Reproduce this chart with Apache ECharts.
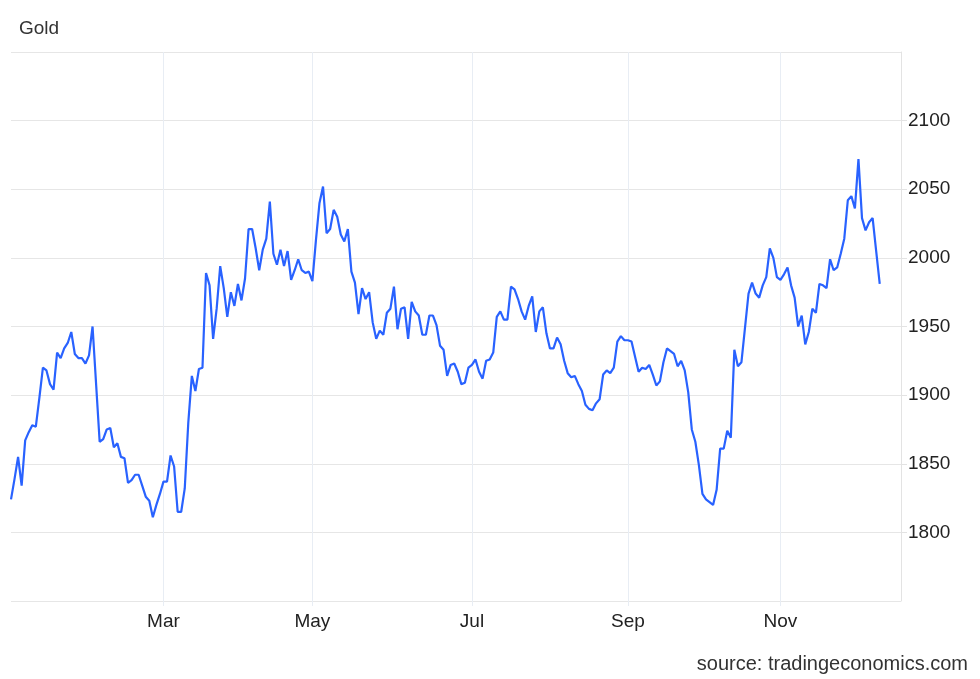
<!DOCTYPE html>
<html>
<head>
<meta charset="utf-8">
<script src="https://cdn.jsdelivr.net/npm/echarts@6/dist/echarts.min.js"></script>
<style>
  html, body { margin: 0; padding: 0; background: #fff; }
  #chart { width: 980px; height: 679px; }
</style>
</head>
<body>
<div id="chart"></div>
<script>
// trading days run from the first to the last date, weekends and skipDates left out
const firstDay = "2022-12-30";
const axisLastDay = "2023-12-19";
const skipDates = ["2023-04-07"];

// month labels on the x axis
const tickDates = ["2023-03-01", "2023-05-01", "2023-07-03", "2023-09-01", "2023-11-01"];
const tickLabels = ["Mar", "May", "Jul", "Sep", "Nov"];

// y axis
const yMin = 1750;
const yMax = 2150;
const yStep = 50;

// gold price, one value per trading day (Dec 30 2022 .. Dec 11 2023)
const goldJanFeb = [
  1824, 1839, 1855, 1834, 1867, 1873, 1878, 1877, 1898, 1920,
  1918, 1908, 1904, 1931, 1927, 1934, 1938, 1946, 1930, 1927,
  1927, 1923, 1929, 1950, 1908, 1866, 1868, 1875, 1876, 1862,
  1865, 1855, 1854, 1836, 1838, 1842, 1842, 1834, 1826, 1823,
  1811, 1820, 1828
];
const goldMarApr = [
  1837, 1837, 1856, 1848, 1815, 1815, 1832, 1880, 1914, 1903,
  1919, 1920, 1989, 1980, 1941, 1963, 1994, 1978, 1957, 1975,
  1965, 1981, 1969, 1985, 2021, 2021, 2007, 1991, 2006, 2014,
  2041, 2003, 1995, 2006, 1994, 2005, 1984, 1991, 1999, 1991,
  1989, 1990
];
const goldMayJun = [
  1983, 2013, 2040, 2052, 2018, 2021, 2035, 2030, 2017, 2012,
  2021, 1990, 1982, 1959, 1978, 1970, 1975, 1953, 1941, 1947,
  1944, 1960, 1963, 1979, 1948, 1963, 1964, 1941, 1968, 1961,
  1958, 1944, 1944, 1958, 1958, 1951, 1936, 1933, 1914, 1922,
  1923, 1917, 1908, 1909, 1920
];
const goldJulAug = [
  1922, 1926, 1917, 1912, 1925, 1926, 1931, 1957, 1961, 1955,
  1955, 1979, 1977, 1970, 1961, 1955, 1965, 1972, 1946, 1961,
  1964, 1945, 1934, 1934, 1942, 1937, 1925, 1916, 1913, 1914,
  1908, 1903, 1893, 1890, 1889, 1894, 1897, 1915, 1918, 1916,
  1920, 1939, 1943, 1940
];
const goldSepOct = [
  1940, 1939, 1928, 1917, 1920, 1919, 1922, 1915, 1907, 1910,
  1924, 1934, 1932, 1930, 1921, 1925, 1918, 1902, 1875, 1866,
  1849, 1828, 1824, 1822, 1820, 1831, 1861, 1861, 1874, 1869,
  1933, 1921, 1924, 1949, 1974, 1982, 1974, 1971, 1980, 1986,
  2007, 2000, 1986
];
const goldNovDec = [
  1984, 1988, 1993, 1980, 1971, 1950, 1958, 1937, 1946, 1963,
  1960, 1981, 1980, 1978, 1999, 1991, 1993, 2003, 2014, 2042,
  2045, 2036, 2072, 2029, 2020, 2026, 2029, 2005, 1981
];

const goldValues = [].concat(goldJanFeb, goldMarApr, goldMayJun, goldJulAug, goldSepOct, goldNovDec);

function tradingDays(from, to, skip) {
  const out = [];
  let d = new Date(from + "T00:00:00Z");
  const end = new Date(to + "T00:00:00Z");
  while (d <= end) {
    const day = d.getUTCDay();
    const s = d.toISOString().slice(0, 10);
    if (day !== 0 && day !== 6 && skip.indexOf(s) < 0) out.push(s);
    d = new Date(d.getTime() + 86400000);
  }
  return out;
}

const categories = tradingDays(firstDay, axisLastDay, skipDates);
const isTick = (index, value) => tickDates.indexOf(value) >= 0;

const chart = echarts.init(document.getElementById("chart"));
const fontFamily = "'Liberation Sans', Arial, sans-serif";

chart.setOption({
  animation: false,
  textStyle: { fontFamily: fontFamily },
  title: {
    text: "Gold",
    left: 14,
    top: 14,
    textStyle: { fontSize: 19, fontWeight: "normal", color: "#333", fontFamily: fontFamily }
  },
  graphic: [
    {
      type: "text",
      right: 12,
      bottom: 5,
      style: { text: "source: tradingeconomics.com", fontSize: 20, fill: "#333", fontFamily: fontFamily }
    }
  ],
  grid: { left: 11, right: 79, top: 52, bottom: 78 },
  xAxis: {
    type: "category",
    boundaryGap: false,
    data: categories,
    axisLine: { show: false },
    axisTick: { show: true, interval: isTick, length: 5, lineStyle: { color: "#e8edf4" } },
    axisLabel: {
      interval: isTick,
      margin: 11,
      fontSize: 19,
      color: "#222",
      formatter: (value) => tickLabels[tickDates.indexOf(value)] || ""
    },
    splitLine: { show: true, interval: isTick, lineStyle: { color: "#e8edf4", width: 1 } }
  },
  yAxis: {
    type: "value",
    position: "right",
    min: yMin,
    max: yMax,
    interval: yStep,
    axisLine: { show: true, lineStyle: { color: "#e3e3e3" } },
    axisTick: { show: true, length: 6, lineStyle: { color: "#e3e3e3" } },
    axisLabel: {
      showMinLabel: false,
      showMaxLabel: false,
      margin: 7,
      fontSize: 19,
      color: "#222",
      formatter: (v) => String(v)
    },
    splitLine: { show: true, lineStyle: { color: "#e6e6e6", width: 1 } }
  },
  series: [
    {
      name: "Gold",
      type: "line",
      data: goldValues,
      showSymbol: false,
      smooth: false,
      lineStyle: { color: "#2962ff", width: 2.2 }
    }
  ]
});
</script>
</body>
</html>
